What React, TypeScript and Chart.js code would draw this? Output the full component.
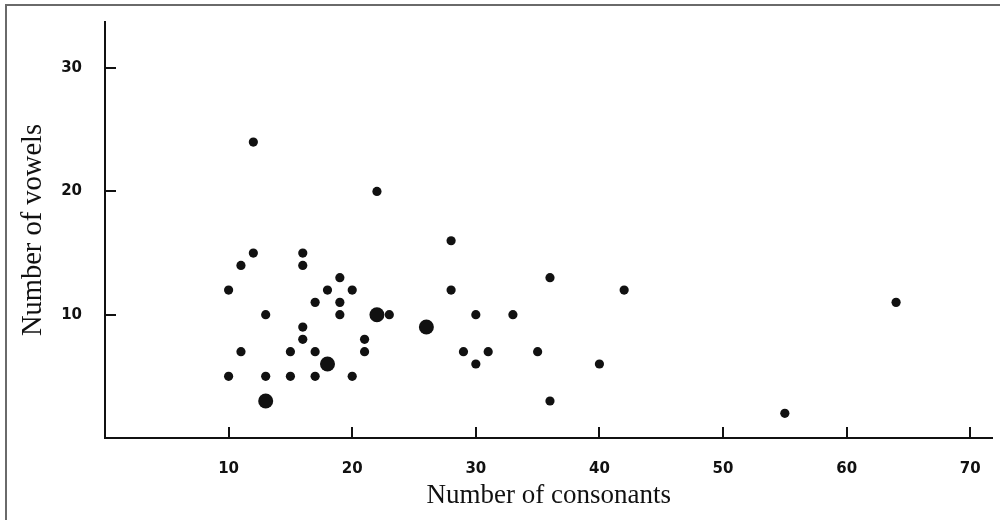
import React, { useEffect, useRef } from "react";
import { Chart, registerables } from "chart.js";

Chart.register(...registerables);

// Data
const consonants = [12, 22, 12, 11, 16, 16, 10, 19, 18, 20, 17, 19, 19, 13, 22, 23, 26, 16, 16, 21, 21, 11, 15, 17, 18, 10, 13, 15, 17, 20, 13, 28, 28, 36, 42, 30, 33, 29, 31, 30, 35, 40, 36, 55, 64];
const vowels = [24, 20, 15, 14, 15, 14, 12, 13, 12, 12, 11, 11, 10, 10, 10, 10, 9, 9, 8, 8, 7, 7, 7, 7, 6, 5, 5, 5, 5, 5, 3, 16, 12, 13, 12, 10, 10, 7, 7, 6, 7, 6, 3, 2, 11];
// number of coinciding observations at each point (large dots = 2)
const counts = [1, 1, 1, 1, 1, 1, 1, 1, 1, 1, 1, 1, 1, 1, 2, 1, 2, 1, 1, 1, 1, 1, 1, 1, 2, 1, 1, 1, 1, 1, 2, 1, 1, 1, 1, 1, 1, 1, 1, 1, 1, 1, 1, 1, 1];

const xTickValues = [10, 20, 30, 40, 50, 60, 70];
const yTickValues = [10, 20, 30];
const xTitle = "Number of consonants";
const yTitle = "Number of vowels";

const INK = "#111111";

const inwardTicks = {
  id: "inwardTicks",
  afterDatasetsDraw(chart: any) {
    const { ctx, chartArea, scales } = chart;
    const len = 11;
    ctx.save();
    ctx.strokeStyle = INK;
    ctx.lineWidth = 2;
    ctx.beginPath();
    for (const v of xTickValues) {
      const px = Math.round(scales.x.getPixelForValue(v));
      ctx.moveTo(px, chartArea.bottom);
      ctx.lineTo(px, chartArea.bottom - len);
    }
    for (const v of yTickValues) {
      const py = Math.round(scales.y.getPixelForValue(v));
      ctx.moveTo(chartArea.left, py);
      ctx.lineTo(chartArea.left + len, py);
    }
    ctx.stroke();
    ctx.restore();
  },
};

export default function App() {
  const canvasRef = useRef<HTMLCanvasElement | null>(null);

  useEffect(() => {
    if (!canvasRef.current) return;
    const points = consonants.map((c, i) => ({ x: c, y: vowels[i] }));
    const chart = new Chart(canvasRef.current, {
      type: "scatter",
      data: {
        datasets: [
          {
            data: points,
            backgroundColor: INK,
            borderWidth: 0,
            pointRadius: counts.map((n) => (n > 1 ? 7.5 : 4.6)),
            pointHoverRadius: counts.map((n) => (n > 1 ? 7.5 : 4.6)),
          },
        ],
      },
      options: {
        animation: false,
        responsive: true,
        maintainAspectRatio: false,
        layout: { padding: { left: 0, top: 22, right: 4, bottom: 0 } },
        plugins: {
          legend: { display: false },
          tooltip: { enabled: false },
        },
        scales: {
          x: {
            type: "linear",
            min: 0,
            max: 71.8,
            afterBuildTicks: (scale: any) => {
              scale.ticks = xTickValues.map((v) => ({ value: v }));
            },
            afterFit: (scale: any) => {
              scale.height = 82;
              scale.paddingLeft = 0;
              scale.paddingRight = 0;
            },
            grid: { display: true, drawOnChartArea: false, drawTicks: false },
            border: { display: true, color: INK, width: 2 },
            ticks: {
              padding: 22,
              color: INK,
              font: { family: "DejaVu Sans", weight: "bold", size: 15 },
              maxRotation: 0,
              autoSkip: false,
            },
            title: {
              display: true,
              text: xTitle,
              color: INK,
              font: { family: "Liberation Serif", size: 27, weight: "normal" },
              padding: { top: 0, bottom: 8 },
            },
          },
          y: {
            type: "linear",
            min: 0,
            max: 33.74,
            afterBuildTicks: (scale: any) => {
              scale.ticks = yTickValues.map((v) => ({ value: v }));
            },
            afterFit: (scale: any) => {
              scale.width = 105;
              scale.paddingTop = 0;
              scale.paddingBottom = 0;
            },
            grid: { display: true, drawOnChartArea: false, drawTicks: false },
            border: { display: true, color: INK, width: 2 },
            ticks: {
              padding: 23,
              color: INK,
              font: { family: "DejaVu Sans", weight: "bold", size: 15 },
              autoSkip: false,
            },
            title: {
              display: true,
              text: yTitle,
              color: INK,
              font: { family: "Liberation Serif", size: 28.5, weight: "normal" },
              padding: { top: 16, bottom: 0 },
            },
          },
        },
      },
      plugins: [inwardTicks],
    });
    return () => chart.destroy();
  }, []);

  return (
    <div
      style={{
        position: "absolute",
        left: 0,
        top: 0,
        width: 1000,
        height: 520,
        background: "#ffffff",
        overflow: "hidden",
      }}
    >
      <canvas ref={canvasRef} />
      <div
        style={{
          position: "absolute",
          left: 5,
          top: 4,
          width: 1000,
          height: 520,
          borderTop: "2px solid #6a6a6a",
          borderLeft: "2px solid #6a6a6a",
          pointerEvents: "none",
        }}
      />
    </div>
  );
}
